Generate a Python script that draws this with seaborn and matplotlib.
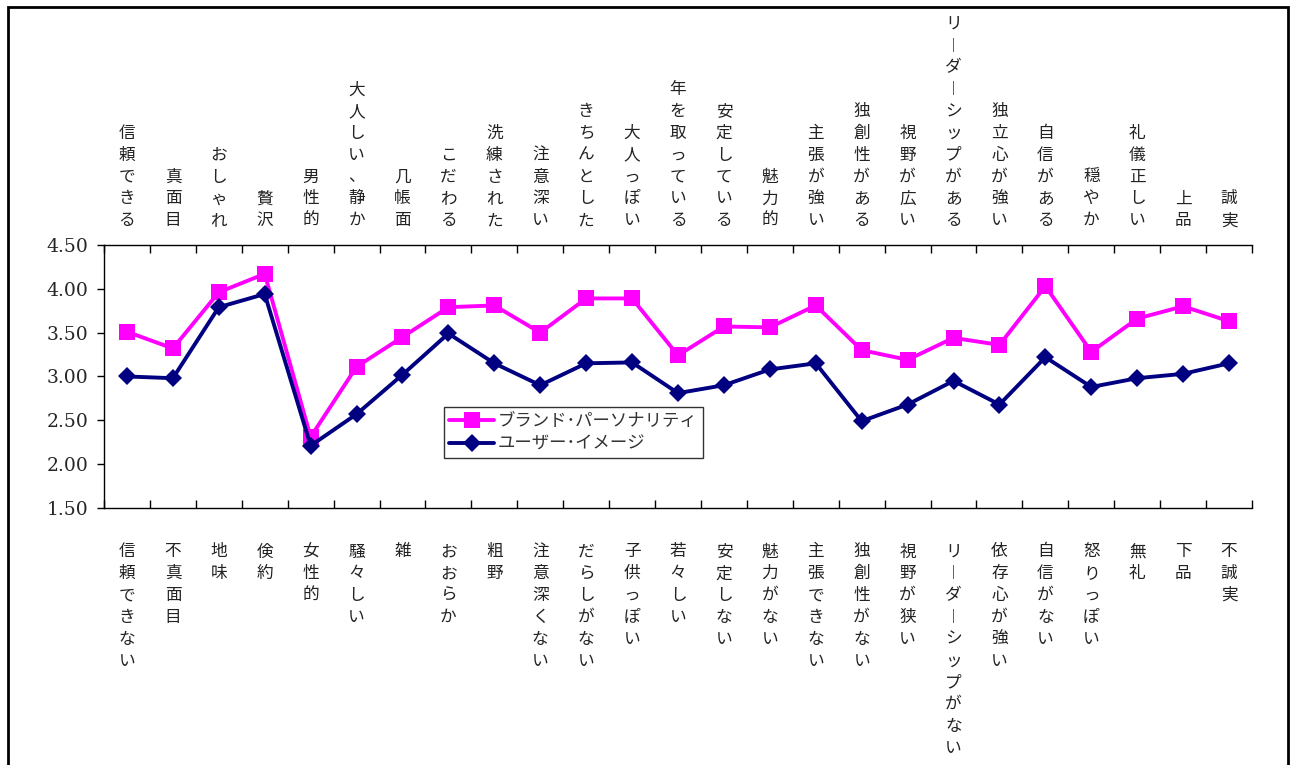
import numpy as np
import pandas as pd
import matplotlib
matplotlib.use("Agg")
import matplotlib.pyplot as plt
import matplotlib.transforms as mtransforms
from matplotlib.patches import Rectangle
import seaborn as sns

sns.set_theme(style="white")
plt.rcParams["font.family"] = ["Noto Sans CJK JP", "DejaVu Sans"]

# ── Data ────────────────────────────────────────────────────────────────
top_labels = ["信頼できる", "真面目", "おしゃれ", "贅沢", "男性的", "大人しい、静か",
              "几帳面", "こだわる", "洗練された", "注意深い", "きちんとした", "大人っぽい",
              "年を取っている", "安定している", "魅力的", "主張が強い", "独創性がある",
              "視野が広い", "リーダーシップがある", "独立心が強い", "自信がある", "穏やか",
              "礼儀正しい", "上品", "誠実"]
bottom_labels = ["信頼できない", "不真面目", "地味", "倹約", "女性的", "騒々しい",
                 "雑", "おおらか", "粗野", "注意深くない", "だらしがない", "子供っぽい",
                 "若々しい", "安定しない", "魅力がない", "主張できない", "独創性がない",
                 "視野が狭い", "リーダーシップがない", "依存心が強い", "自信がない", "怒りっぽい",
                 "無礼", "下品", "不誠実"]
brand = [3.51, 3.32, 3.96, 4.17, 2.31, 3.11, 3.45, 3.79, 3.81, 3.50, 3.89, 3.89,
         3.24, 3.57, 3.56, 3.81, 3.30, 3.19, 3.44, 3.36, 4.03, 3.28, 3.66, 3.80, 3.63]
user = [3.00, 2.98, 3.79, 3.94, 2.21, 2.57, 3.02, 3.49, 3.15, 2.90, 3.15, 3.16,
        2.81, 2.90, 3.08, 3.15, 2.49, 2.68, 2.95, 2.68, 3.22, 2.88, 2.98, 3.03, 3.15]
series_names = ["ブランド･パーソナリティ", "ユーザー･イメージ"]
y_ticks = [1.5, 2.0, 2.5, 3.0, 3.5, 4.0, 4.5]

pos = np.arange(len(top_labels))
df = pd.DataFrame({"pos": pos, "brand": brand, "user": user})


def vertical(s):
    # stack characters top to bottom, long vowel mark shown in vertical form
    return "\n".join("︱" if c == "ー" else c for c in s)


fig = plt.figure(figsize=(12.95, 7.65), dpi=100)
ax = fig.add_axes([0.0803, 0.336, 0.8865, 0.3438])

sns.lineplot(data=df, x="pos", y="brand", ax=ax, color="#FF00FF", lw=2.8,
             marker="s", markersize=11, markeredgewidth=0, label=series_names[0])
sns.lineplot(data=df, x="pos", y="user", ax=ax, color="#000080", lw=2.8,
             marker="D", markersize=9, markeredgewidth=0, label=series_names[1])

ax.set_xlim(-0.5, len(pos) - 0.5)
ax.set_ylim(1.5, 4.5)
ax.set_xlabel("")
ax.set_ylabel("")
ax.set_xticks(np.arange(-0.5, len(pos), 1.0))
ax.tick_params(axis="x", which="both", direction="in", top=True, bottom=True,
               length=6, width=1, color="black", labelbottom=False, labeltop=False)
ax.set_yticks(y_ticks)
ax.set_yticklabels([f"{v:.2f}" for v in y_ticks], family="DejaVu Serif", fontsize=13.5)
ax.tick_params(axis="y", direction="out", left=True, length=5, width=1,
               color="black", pad=6)
for side in ["top", "bottom", "left"]:
    ax.spines[side].set_color("black")
    ax.spines[side].set_linewidth(1.0)
ax.spines["right"].set_visible(False)

# category labels above and below the plot, written vertically
trans = mtransforms.blended_transform_factory(ax.transData, ax.transAxes)
for p, t, b in zip(pos, top_labels, bottom_labels):
    ax.text(p, 1.06, vertical(t), transform=trans, ha="center", va="bottom",
            fontsize=12, linespacing=1.37, color="#222222")
    ax.text(p, -0.135, vertical(b), transform=trans, ha="center", va="top",
            fontsize=12, linespacing=1.37, color="#222222")

leg = ax.legend(loc="lower left", bbox_to_anchor=(0.296, 0.19), fontsize=12.5,
                frameon=True, fancybox=False, borderpad=0.3, handlelength=2.6,
                handletextpad=0.2, labelspacing=0.25, borderaxespad=0)
leg.get_frame().set_edgecolor("black")
leg.get_frame().set_linewidth(1.0)
for txt in leg.get_texts():
    txt.set_color("#333333")

# outer frame of the chart area
fig.patches.append(Rectangle((8 / 1295, -0.02), 1280 / 1295, 1.02 - 7 / 765,
                             transform=fig.transFigure, fill=False,
                             edgecolor="black", linewidth=2))

fig.savefig("out.png", dpi=100)
